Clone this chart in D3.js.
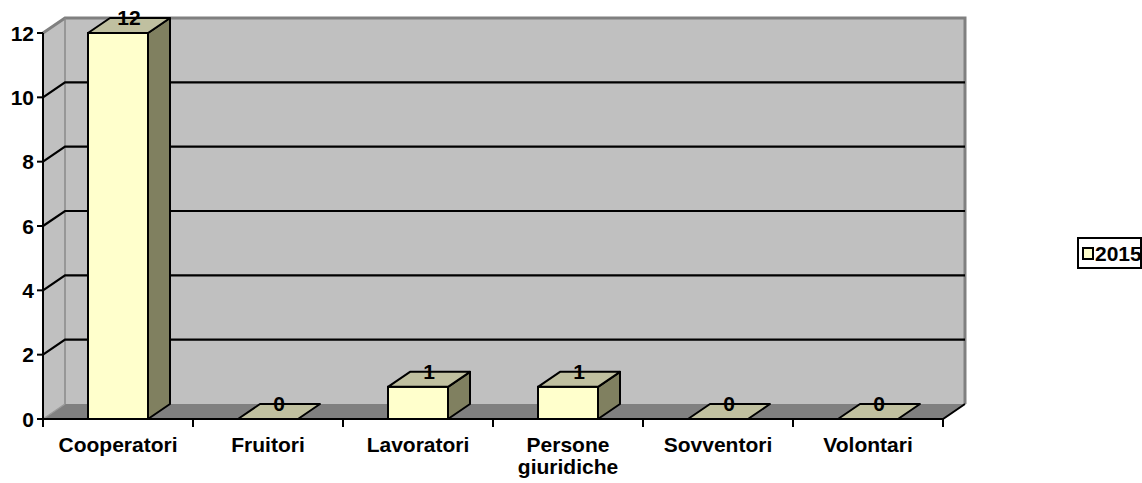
<!DOCTYPE html>
<html>
<head>
<meta charset="utf-8">
<script src="https://cdn.jsdelivr.net/npm/d3@7"></script>
<style>
  html, body { margin: 0; padding: 0; background: #ffffff; }
  svg { display: block; }
  text { font-family: "Liberation Sans", Arial, sans-serif; font-weight: bold; fill: #000; }
</style>
</head>
<body>
<svg id="chart" width="1142" height="483"></svg>
<script>
// Membership by category, year 2015
const categories = ["Cooperatori", "Fruitori", "Lavoratori", "Persone giuridiche", "Sovventori", "Volontari"];
const values2015 = [12, 0, 1, 1, 0, 0];
const seriesName = "2015";
const yTicks = [0, 2, 4, 6, 8, 10, 12];

const svg = d3.select("#chart");
const FONT = 21;

// Front plane of the 3D box
const plotLeft = 43, plotRight = 943, plotTop = 33, plotBottom = 419;
// Depth offset of the box (receding up and to the right)
const DX = 22, DY = -15;

const y = d3.scaleLinear().domain([0, 12]).range([plotBottom, plotTop]);
const x = d3.scaleBand().domain(categories).range([plotLeft, plotRight])
  .paddingInner(0.6).paddingOuter(0.3);
const step = x.step();
const bandStart = c => x(c) - x.paddingInner() * step / 2; // category slot start

const colors = {
  wall: "#c0c0c0",
  floor: "#808080",
  edge: "#808080",
  front: "#ffffcc",
  side: "#808060",
  topFace: "#c0c0a0"
};

const poly = pts => pts.map(p => p.join(",")).join(" ");
const L = plotLeft, R = plotRight;

// Back wall
svg.append("polygon")
  .attr("points", poly([[L + DX, y(12) + DY], [R + DX, y(12) + DY], [R + DX, y(0) + DY], [L + DX, y(0) + DY]]))
  .attr("fill", colors.wall);
// Left side wall
svg.append("polygon")
  .attr("points", poly([[L, y(12)], [L + DX, y(12) + DY], [L + DX, y(0) + DY], [L, y(0)]]))
  .attr("fill", colors.wall);
// Floor
svg.append("polygon")
  .attr("points", poly([[L, y(0)], [R, y(0)], [R + DX, y(0) + DY], [L + DX, y(0) + DY]]))
  .attr("fill", colors.floor);

// Wall edges
svg.append("path")
  .attr("d", `M${L},${y(12)} L${L + DX},${y(12) + DY} L${R + DX},${y(12) + DY} L${R + DX},${y(0) + DY}`)
  .attr("fill", "none").attr("stroke", colors.edge).attr("stroke-width", 3);
svg.append("line")
  .attr("x1", L + DX).attr("y1", y(12) + DY).attr("x2", L + DX).attr("y2", y(0) + DY)
  .attr("stroke", "#8a8a8a").attr("stroke-width", 1.5);
svg.append("line")
  .attr("x1", L).attr("y1", y(0)).attr("x2", L + DX).attr("y2", y(0) + DY)
  .attr("stroke", "#9a9a9a").attr("stroke-width", 1.5);

// Gridlines on the side and back walls
const gridVals = yTicks.filter(v => v > 0 && v < 12);
svg.append("g").selectAll("path").data(gridVals).join("path")
  .attr("d", v => `M${L},${y(v)} L${L + DX},${y(v) + DY} L${R + DX},${y(v) + DY}`)
  .attr("fill", "none").attr("stroke", "#000").attr("stroke-width", 2.2);

// Floor front and right edges
svg.append("path")
  .attr("d", `M${L},${y(0)} L${R},${y(0)} L${R + DX},${y(0) + DY}`)
  .attr("fill", "none").attr("stroke", "#000").attr("stroke-width", 2);

// Bars as 3D boxes
const data = categories.map((c, i) => ({ c, v: values2015[i] }));
const bars = svg.append("g").selectAll("g").data(data).join("g");
const bw = x.bandwidth();
bars.each(function (d) {
  const g = d3.select(this);
  const x0 = x(d.c), x1 = x0 + bw;
  const yt = y(d.v), yb = y(0);
  if (d.v > 0) {
    g.append("polygon")
      .attr("points", poly([[x1, yt], [x1 + DX, yt + DY], [x1 + DX, yb + DY], [x1, yb]]))
      .attr("fill", colors.side).attr("stroke", "#000").attr("stroke-width", 2).attr("stroke-linejoin", "round");
    g.append("rect")
      .attr("x", x0).attr("y", yt).attr("width", bw).attr("height", yb - yt)
      .attr("fill", colors.front).attr("stroke", "#000").attr("stroke-width", 2);
  }
  g.append("polygon")
    .attr("points", poly([[x0, yt], [x1, yt], [x1 + DX, yt + DY], [x0 + DX, yt + DY]]))
    .attr("fill", colors.topFace).attr("stroke", "#000").attr("stroke-width", 2).attr("stroke-linejoin", "round");
  g.append("text")
    .attr("x", x0 + bw / 2 + DX / 2).attr("y", yt + DY + 7)
    .attr("text-anchor", "middle").attr("font-size", FONT)
    .text(d.v);
});

// Value axis
svg.append("line")
  .attr("x1", L).attr("y1", y(12)).attr("x2", L).attr("y2", y(0))
  .attr("stroke", "#000").attr("stroke-width", 2);
const yAxis = svg.append("g").selectAll("g").data(yTicks).join("g")
  .attr("transform", v => `translate(0,${y(v)})`);
yAxis.append("line").attr("x1", L - 6).attr("x2", L).attr("stroke", "#000").attr("stroke-width", 2);
yAxis.append("text")
  .attr("x", L - 9).attr("dy", "0.36em")
  .attr("text-anchor", "end").attr("font-size", FONT)
  .text(v => v);

// Category axis ticks at slot boundaries
const boundaries = categories.map(bandStart).concat([R]);
svg.append("g").selectAll("line").data(boundaries).join("line")
  .attr("x1", d => d).attr("x2", d => d)
  .attr("y1", y(0)).attr("y2", y(0) + 8)
  .attr("stroke", "#000").attr("stroke-width", 2);

// Category labels, wrapped when wider than the slot
const labels = svg.append("g").selectAll("text").data(categories).join("text")
  .attr("x", c => x(c) + bw / 2)
  .attr("y", 452)
  .attr("text-anchor", "middle").attr("font-size", FONT);
labels.each(function (c) {
  const t = d3.select(this);
  t.text(c);
  if (this.getComputedTextLength() > step * 0.9) {
    t.text(null);
    c.split(" ").forEach((w, i) => {
      t.append("tspan").attr("x", x(c) + bw / 2).attr("dy", i === 0 ? 0 : 22).text(w);
    });
  }
});

// Legend
const legend = svg.append("g");
legend.append("rect")
  .attr("x", 1078).attr("y", 238).attr("width", 63).attr("height", 30)
  .attr("fill", "#fff").attr("stroke", "#000").attr("stroke-width", 2);
legend.append("rect")
  .attr("x", 1083).attr("y", 248).attr("width", 10).attr("height", 11)
  .attr("fill", colors.front).attr("stroke", "#000").attr("stroke-width", 2);
legend.append("text")
  .attr("x", 1095).attr("y", 261).attr("font-size", FONT)
  .text(seriesName);
</script>
</body>
</html>
